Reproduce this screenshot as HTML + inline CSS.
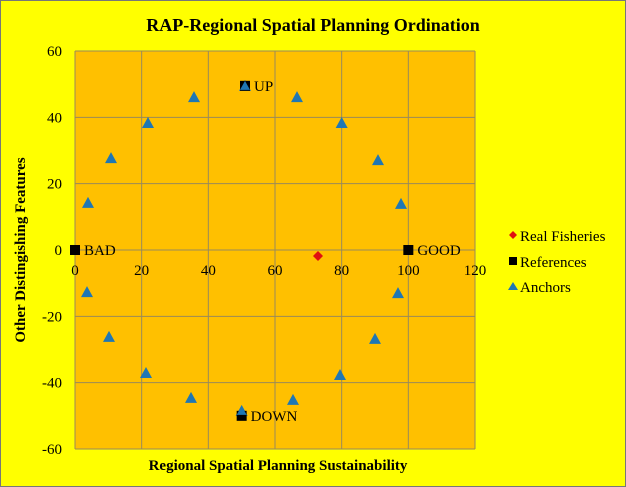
<!DOCTYPE html>
<html><head><meta charset="utf-8"><style>
body{margin:0;background:#fff}
svg{display:block;font-family:"Liberation Serif",serif}
</style></head><body>
<svg width="626" height="487">
<rect x="0.5" y="0.5" width="625" height="486" fill="#ffff00" stroke="#777"/>
<text x="313" y="31" text-anchor="middle" font-size="18" font-weight="bold">RAP-Regional Spatial Planning Ordination</text>
<rect x="75" y="51" width="400" height="398" fill="#ffc000"/>
<g id="grid"></g>
<g id="ticks"></g>
<g id="marks"></g>
<text x="278" y="470" text-anchor="middle" font-size="15" font-weight="bold">Regional Spatial Planning Sustainability</text>
<text transform="translate(25,250) rotate(-90)" text-anchor="middle" font-size="15" font-weight="bold">Other Distingishing Features</text>
<g>
<g><polygon points="513,231 517,235 513,239 509,235" fill="#e01010"/><text x="520" y="241" font-size="15">Real Fisheries</text></g>
<g><rect x="509" y="257" width="8" height="8" fill="#000"/><text x="520" y="267" font-size="15">References</text></g>
<g><polygon points="513,282 518,290 508,290" fill="#1f77b4"/><text x="520" y="292" font-size="15">Anchors</text></g>
</g>
</svg>
<script>
const xTicks=[0,20,40,60,80,100,120];
const yTicks=[-60,-40,-20,0,20,40,60];
const anchorX=[3.9,10.8,21.9,35.7,51,66.6,80,90.9,97.8,96.9,90,79.5,65.4,50,34.8,21.3,10.2,3.6];
const anchorY=[14.2,27.7,38.3,46.1,49.5,46.1,38.3,27.1,13.9,-13,-26.8,-37.7,-45.2,-48.5,-44.6,-37.1,-26.2,-12.7];
const refX=[0,100,51,50];
const refY=[0,0,49.5,-50];
const refLabels=["BAD","GOOD","UP","DOWN"];
const fishX=[72.9];
const fishY=[-1.8];
const NS='http://www.w3.org/2000/svg';
const sx=v=>75+v*400/120, sy=v=>250-v*398/120;
function mk(t,a,p){const e=document.createElementNS(NS,t);for(const k in a)e.setAttribute(k,a[k]);p.appendChild(e);return e;}
const grid=document.getElementById('grid'),ticks=document.getElementById('ticks'),marks=document.getElementById('marks');
xTicks.forEach(v=>{const l=mk('line',{x1:sx(v),x2:sx(v),y1:51,y2:449,stroke:'#9a8a5a','stroke-width':1},grid);


const t=mk('text',{x:sx(v),y:sy(0)+25,'text-anchor':'middle','font-size':15},ticks);t.textContent=v;

});
yTicks.forEach(v=>{const l=mk('line',{x1:75,x2:475,y1:sy(v),y2:sy(v),stroke:'#9a8a5a','stroke-width':1},grid);


const t=mk('text',{x:62,y:sy(v)+5,'text-anchor':'end','font-size':15},ticks);t.textContent=v;

});
anchorX.forEach((x,i)=>{const cx=sx(x),cy=sy(anchorY[i]);
const p=mk('polygon',{points:`${cx},${cy-6} ${cx+6},${cy+5} ${cx-6},${cy+5}`,fill:'#1f77b4'},marks);

});
refX.forEach((x,i)=>{const cx=sx(x),cy=sy(refY[i]);
const r=mk('rect',{x:cx-5,y:cy-5,width:10,height:10,fill:'#000'},marks);


const t=mk('text',{x:cx+9,y:cy+5,'font-size':15},marks);t.textContent=refLabels[i];

});
[4,13].forEach(i=>{const cx=sx(anchorX[i]),cy=sy(anchorY[i]);
const p=mk('polygon',{points:`${cx},${cy-5} ${cx+5},${cy+4} ${cx-5},${cy+4}`,fill:'#1f77b4'},marks);

});
fishX.forEach((x,i)=>{const cx=sx(x),cy=sy(fishY[i]);
const p=mk('polygon',{points:`${cx},${cy-5} ${cx+5},${cy} ${cx},${cy+5} ${cx-5},${cy}`,fill:'#e01010'},marks);

});
</script>
</body></html>
